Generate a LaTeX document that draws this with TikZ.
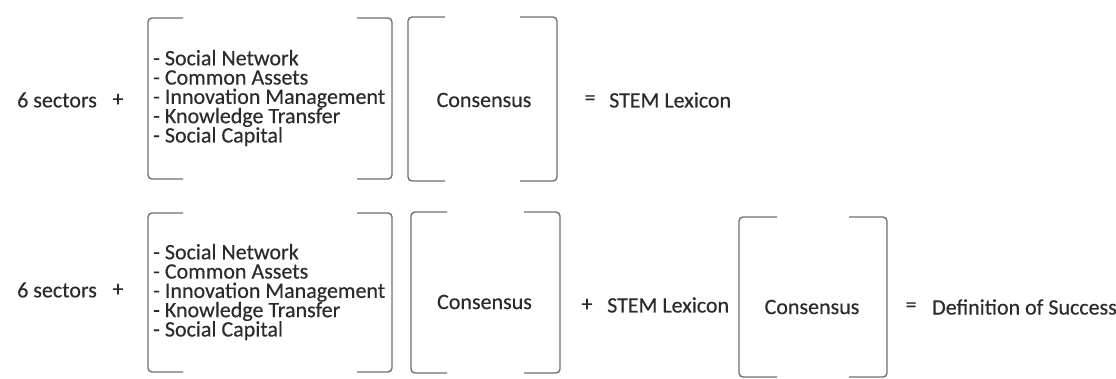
\documentclass[tikz,border=0pt]{standalone}
\usepackage{fontspec}
\setmainfont{Carlito}
\newfontfamily\labelfont[FakeBold=0.35]{Carlito}
\definecolor{textgray}{HTML}{2B2B2B}
\definecolor{brkgray}{HTML}{707070}
% a pair of square brackets: left x, right x, top y, bottom y, arm length
\newcommand\bktpair[5]{%
  \draw[brk] (#1+#5,#3) -- (#1,#3) -- (#1,#4) -- (#1+#5,#4);
  \draw[brk] (#2-#5,#3) -- (#2,#3) -- (#2,#4) -- (#2-#5,#4);}
\begin{document}
\begin{tikzpicture}[x=1pt,y=-1pt,
  txt/.style={inner sep=0pt, text=textgray, font=\labelfont\fontsize{22}{19.3}\selectfont},
  lst/.style={txt, anchor=west, align=left},
  brk/.style={draw=brkgray, line width=1.4pt, rounded corners=4pt}]
\useasboundingbox (0,0) rectangle (1116,378);

% first equation
\node[txt, anchor=west] (sec1) at (17,100) {6 sectors};
\node[txt] (plus1) at (118,100) {+};
\node[lst] (list1) at (153,98) {- Social Network\\- Common Assets\\- Innovation Management\\- Knowledge Transfer\\- Social Capital};
\bktpair{148}{392}{18}{179}{35}
\bktpair{408}{557}{17}{181}{37}
\node[txt] (cons1) at (484,100) {Consensus};
\node[txt] (eq1) at (590,100) {=};
\node[txt, anchor=west] (lex1) at (609,100) {STEM Lexicon};

% second equation
\node[txt, anchor=west] (sec2) at (17,290) {6 sectors};
\node[txt] (plus2) at (118,290) {+};
\node[lst] (list2) at (153,292) {- Social Network\\- Common Assets\\- Innovation Management\\- Knowledge Transfer\\- Social Capital};
\bktpair{148}{392}{213}{372}{35}
\bktpair{411}{560}{212}{373}{36}
\node[txt] (cons2) at (484.5,302) {Consensus};
\node[txt] (plus3) at (587,305) {+};
\node[txt, anchor=west] (lex2) at (607,305) {STEM Lexicon};
\bktpair{739}{887}{217}{377}{38}
\node[txt] (cons3) at (812,307) {Consensus};
\node[txt] (eq2) at (911,307) {=};
\node[txt, anchor=west] (def) at (932,307) {Definition of Success};
\end{tikzpicture}
\end{document}
